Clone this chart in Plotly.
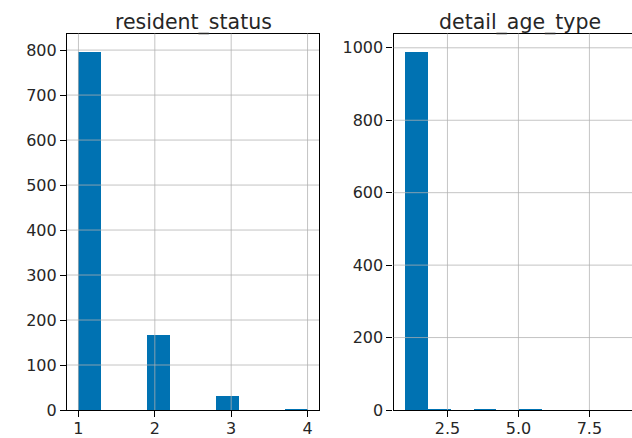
import numpy as np
import plotly.graph_objects as go

# Histogram counts (10 bins each) for two columns
resident_status_edges = np.linspace(1, 4, 11)
resident_status_counts = [797, 0, 0, 167, 0, 0, 32, 0, 0, 4]

detail_age_type_edges = np.linspace(1, 9, 11)
detail_age_type_counts = [990, 5, 0, 3, 0, 2, 0, 0, 0, 0]

# Tick positions
left_xticks = [1, 2, 3, 4]
left_yticks = [0, 100, 200, 300, 400, 500, 600, 700, 800]
right_xticks = [2.5, 5.0, 7.5]
right_yticks = [0, 200, 400, 600, 800, 1000]

titles = ["resident_status", "detail_age_type"]

W, H = 632, 438
BAR = "#0072B2"
TEXT = "#262626"
GRID = "rgba(176,176,176,0.75)"
FONT = "DejaVu Sans"

# Plot-area geometry in pixels
top_px, bottom_px = 33.5, 410
left_dom = (67 / W, 319 / W)
right_dom = (393.5 / W, 1.0)
y_dom = (1 - bottom_px / H, 1 - top_px / H)


def bars(edges, counts, xa, ya):
    edges = np.asarray(edges)
    centers = (edges[:-1] + edges[1:]) / 2
    widths = edges[1:] - edges[:-1]
    return go.Bar(
        x=centers, y=counts, width=widths,
        marker=dict(color=BAR, line=dict(width=0)),
        xaxis=xa, yaxis=ya, showlegend=False, hoverinfo="x+y",
    )


fig = go.Figure()
fig.add_trace(bars(resident_status_edges, resident_status_counts, "x", "y"))
fig.add_trace(bars(detail_age_type_edges, detail_age_type_counts, "x2", "y2"))

axis_common = dict(
    showline=True, linecolor="black", linewidth=1.2,
    ticks="outside", ticklen=6, tickwidth=1.2, tickcolor="black",
    showgrid=False, zeroline=False, automargin=False,
    tickfont=dict(family=FONT, size=16, color=TEXT),
)

l_span = resident_status_edges[-1] - resident_status_edges[0]
r_span = detail_age_type_edges[-1] - detail_age_type_edges[0]
l_xrange = [resident_status_edges[0] - 0.05 * l_span, resident_status_edges[-1] + 0.05 * l_span]
r_xrange = [detail_age_type_edges[0] - 0.05 * r_span, detail_age_type_edges[-1]]

fig.update_layout(
    width=W, height=H,
    margin=dict(l=0, r=0, t=0, b=0),
    paper_bgcolor="white", plot_bgcolor="white",
    bargap=0,
    xaxis=dict(domain=left_dom, range=l_xrange, tickvals=left_xticks,
               anchor="y", mirror=True, ticklabelstandoff=-2, **axis_common),
    yaxis=dict(domain=y_dom, range=[0, max(resident_status_counts) * 1.05],
               tickvals=left_yticks, anchor="x", mirror=True, **axis_common),
    xaxis2=dict(domain=right_dom, range=r_xrange, tickvals=right_xticks,
                tickformat=".1f", anchor="y2", mirror=True,
                ticklabelstandoff=-2, **axis_common),
    yaxis2=dict(domain=y_dom, range=[0, max(detail_age_type_counts) * 1.05],
                tickvals=right_yticks, anchor="x2", mirror=False, **axis_common),
)

# Grid lines drawn on top of the bars
shapes = []
for xa, ya, xt, yt in [("x", "y", left_xticks, left_yticks),
                       ("x2", "y2", right_xticks, right_yticks)]:
    for v in xt:
        shapes.append(dict(type="line", xref=xa, yref=f"{ya} domain",
                           x0=v, x1=v, y0=0, y1=1, layer="above",
                           line=dict(color=GRID, width=1)))
    for v in yt[1:]:
        shapes.append(dict(type="line", xref=f"{xa} domain", yref=ya,
                           x0=0, x1=1, y0=v, y1=v, layer="above",
                           line=dict(color=GRID, width=1)))
fig.update_layout(shapes=shapes)

# Subplot titles
for dom, t in zip([left_dom, (right_dom[0], right_dom[0] + (319 - 67) / W)], titles):
    fig.add_annotation(
        text=t, xref="paper", yref="paper",
        x=(dom[0] + dom[1]) / 2, y=1 - 22 / H,
        xanchor="center", yanchor="middle", showarrow=False,
        font=dict(family=FONT, size=20.5, color=TEXT),
    )

fig.write_html("out.html")
